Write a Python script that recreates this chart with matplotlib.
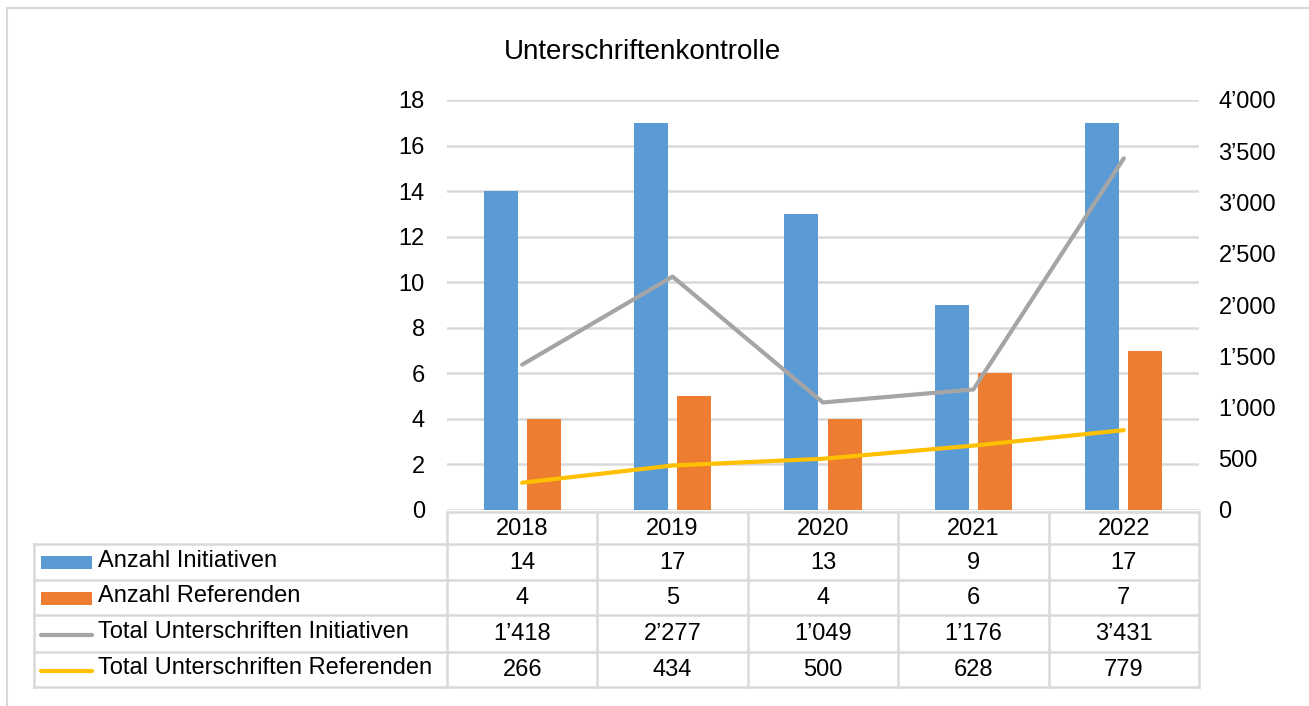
import matplotlib
matplotlib.use("Agg")
import matplotlib.pyplot as plt
from matplotlib.patches import Rectangle
from matplotlib.lines import Line2D
import numpy as np

plt.rcParams['font.family'] = ['Liberation Sans', 'DejaVu Sans']

years = ["2018", "2019", "2020", "2021", "2022"]
anzahl_initiativen = [14, 17, 13, 9, 17]
anzahl_referenden = [4, 5, 4, 6, 7]
total_init = [1418, 2277, 1049, 1176, 3431]
total_ref = [266, 434, 500, 628, 779]
series_names = ["Anzahl Initiativen", "Anzahl Referenden",
                "Total Unterschriften Initiativen", "Total Unterschriften Referenden"]
left_ticks = [0, 2, 4, 6, 8, 10, 12, 14, 16, 18]
right_ticks = [0, 500, 1000, 1500, 2000, 2500, 3000, 3500, 4000]
title = "Unterschriftenkontrolle"

BLUE = "#5B9BD5"
ORANGE = "#ED7D31"
GREY = "#A5A5A5"
YELLOW = "#FFC000"
GRID = "#D9D9D9"
FS = 17

W, H = 1309, 706
fig = plt.figure(figsize=(W / 100, H / 100), dpi=100)

def fx(px):
    return px / W

def fy(py):
    return 1 - py / H

def fmt(v):
    return f"{v:,}".replace(",", "\u2019")

# outer chart border (top and left visible)
fig.add_artist(Line2D([fx(7), fx(7)], [fy(8), 0], color=GRID, lw=1.5))
fig.add_artist(Line2D([fx(7), 1], [fy(8), fy(8)], color=GRID, lw=1.5))

PL, PR, PT, PB = 447, 1199, 100, 510
ax = fig.add_axes([fx(PL), fy(PB), fx(PR) - fx(PL), fy(PT) - fy(PB)])
x = np.arange(len(years))
bw = 0.226
off = 0.143
ax.bar(x - off, anzahl_initiativen, width=bw, color=BLUE, zorder=3)
ax.bar(x + off, anzahl_referenden, width=bw, color=ORANGE, zorder=3)
ax.set_xlim(-0.5, len(years) - 0.5)
ax.set_ylim(0, 18)
ax.set_yticks(left_ticks)
ax.set_yticklabels([str(t) for t in left_ticks], fontsize=FS)
ax.yaxis.grid(True, color=GRID, lw=1.8, zorder=0)
ax.set_axisbelow(True)
ax.set_xticks([])
for s in ax.spines.values():
    s.set_visible(False)
ax.tick_params(axis='y', length=0, pad=16)

ax2 = ax.twinx()
ax2.plot(x, total_init, color=GREY, lw=3, solid_capstyle='round', zorder=4)
ax2.plot(x, total_ref, color=YELLOW, lw=3, solid_capstyle='round', zorder=4)
ax2.set_ylim(0, 4000)
ax2.set_yticks(right_ticks)
ax2.set_yticklabels([fmt(t) for t in right_ticks], fontsize=FS)
ax2.tick_params(axis='y', length=0, pad=14)
for s in ax2.spines.values():
    s.set_visible(False)

fig.text(fx(642), fy(52), title, fontsize=20, ha='center', va='center')

# data table
TL, TT, TB = 34, 512, 687
tax = fig.add_axes([fx(TL), fy(TB), fx(PR) - fx(TL), fy(TT) - fy(TB)])
cw = (PR - PL) / len(years)
xl = -0.5 - (PL - TL) / cw
tax.set_xlim(xl, len(years) - 0.5)
tax.set_ylim(TB, TT)
tax.axis('off')
row_edges = [512, 544, 580, 615, 652, 687]
lk = dict(color=GRID, lw=1.8, clip_on=False)
tax.plot([-0.5, len(years) - 0.5], [row_edges[0]] * 2, **lk)
for r in row_edges[1:]:
    tax.plot([xl, len(years) - 0.5], [r, r], **lk)
tax.plot([xl, xl], [row_edges[1], row_edges[-1]], **lk)
for i in range(len(years) + 1):
    tax.plot([i - 0.5, i - 0.5], [row_edges[0], row_edges[-1]], **lk)
for i, yv in enumerate(years):
    tax.text(i, (row_edges[0] + row_edges[1]) / 2 + 1, yv, ha='center', va='center', fontsize=FS)
rows = [anzahl_initiativen, anzahl_referenden,
        [fmt(v) for v in total_init],
        [fmt(v) for v in total_ref]]
for r, vals in enumerate(rows):
    yc = (row_edges[r + 1] + row_edges[r + 2]) / 2 + 1
    for i, v in enumerate(vals):
        tax.text(i, yc, str(v), ha='center', va='center', fontsize=FS)
    tax.text(xl + (98 - TL) / cw, yc - 2, series_names[r], ha='left', va='center', fontsize=FS)
    k0 = xl + (41 - TL) / cw
    k1 = xl + (92 - TL) / cw
    if r < 2:
        tax.add_patch(Rectangle((k0, yc - 7), k1 - k0, 13, color=[BLUE, ORANGE][r], lw=0))
    else:
        tax.plot([k0, k1], [yc, yc], color=[GREY, YELLOW][r - 2], lw=3, solid_capstyle='round')

fig.savefig("out.png", dpi=100)
